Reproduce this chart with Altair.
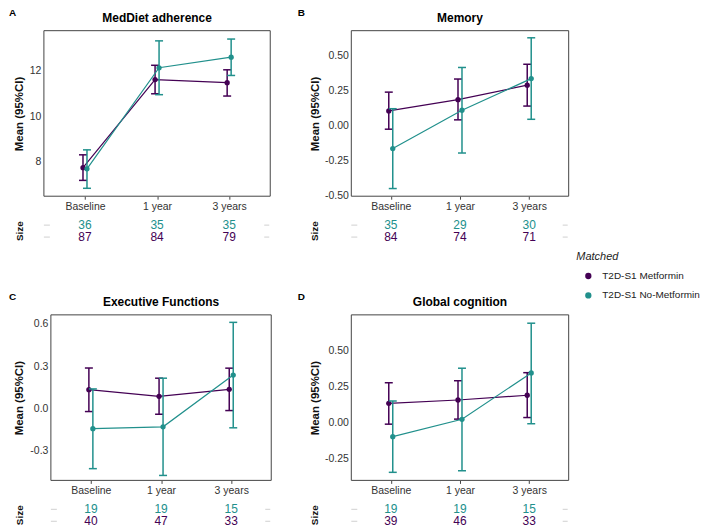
import altair as alt
import pandas as pd

times = ["Baseline", "1 year", "3 years"]
groups = ["T2D-S1 Metformin", "T2D-S1 No-Metformin"]
PURPLE = "#440154"
TEAL = "#21908C"

# A: MedDiet adherence
med_met_mean = [7.72, 11.62, 11.48]
med_met_lo = [7.16, 10.99, 10.89]
med_met_hi = [8.29, 12.25, 12.05]
med_met_n = [87, 84, 79]
med_nom_mean = [7.67, 12.14, 12.61]
med_nom_lo = [6.81, 10.95, 11.80]
med_nom_hi = [8.51, 13.33, 13.41]
med_nom_n = [36, 35, 35]

# B: Memory
mem_met_mean = [0.105, 0.186, 0.29]
mem_met_lo = [-0.026, 0.041, 0.14]
mem_met_hi = [0.24, 0.334, 0.44]
mem_met_n = [84, 74, 71]
mem_nom_mean = [-0.165, 0.11, 0.337]
mem_nom_lo = [-0.452, -0.197, 0.045]
mem_nom_hi = [0.121, 0.417, 0.63]
mem_nom_n = [35, 29, 30]

# C: Executive Functions
exe_met_mean = [0.134, 0.087, 0.136]
exe_met_lo = [-0.021, -0.04, -0.014]
exe_met_hi = [0.287, 0.215, 0.286]
exe_met_n = [40, 47, 33]
exe_nom_mean = [-0.142, -0.129, 0.237]
exe_nom_lo = [-0.425, -0.473, -0.136]
exe_nom_hi = [0.139, 0.215, 0.61]
exe_nom_n = [19, 19, 15]

# D: Global cognition
glo_met_mean = [0.133, 0.156, 0.189]
glo_met_lo = [-0.012, 0.023, 0.034]
glo_met_hi = [0.276, 0.29, 0.346]
glo_met_n = [39, 46, 33]
glo_nom_mean = [-0.099, 0.022, 0.344]
glo_nom_lo = [-0.347, -0.336, -0.009]
glo_nom_hi = [0.149, 0.377, 0.69]
glo_nom_n = [19, 19, 15]


def make_df(mm, ml, mh, mn, nm, nl, nh, nn):
    rows = []
    for i, t in enumerate(times):
        rows.append(dict(time=t, group=groups[0], mean=mm[i], lo=ml[i], hi=mh[i], n=mn[i]))
    for i, t in enumerate(times):
        rows.append(dict(time=t, group=groups[1], mean=nm[i], lo=nl[i], hi=nh[i], n=nn[i]))
    return pd.DataFrame(rows)


XPAD = 0.57
H = 166

LEGEND = alt.Legend(
    title="Matched", orient="none", legendX=534, legendY=221,
    titleFontStyle="italic", titleFontWeight="normal", titleFontSize=11,
    titleColor="#222222", labelFontSize=10, labelColor="#222222",
    symbolType="circle", symbolSize=40, symbolStrokeWidth=0,
    symbolOffset=7, labelOffset=9, rowPadding=9.5, titlePadding=9, padding=0)


def panel(df, title, letter, dom, tick_vals, fmt, bw, ox, letter_x, title_x):
    W = ox + bw
    xsc = alt.Scale(type="point", domain=times, padding=XPAD, range=[ox, W])
    xaxis = alt.Axis(title=None, labelFontSize=10.5, labelColor="#333333", labelPadding=2,
                     tickSize=3, tickColor="#444444", domain=False, grid=False, labelAngle=0)

    def xenc():
        return alt.X("time:O", sort=times, scale=xsc, axis=xaxis)

    yaxis = alt.Axis(title="Mean (95%CI)", values=tick_vals, offset=-ox,
                     labelExpr="replace(format(datum.value, '" + fmt + "'), '\u2212', '-')",
                     labelFontSize=10.5, labelColor="#333333", ticks=False, labelPadding=3,
                     domain=False, grid=False, titleFontSize=11.5, titleFontWeight="bold",
                     titleColor="#111111", titleX=title_x, titleBaseline="middle", titleAngle=270)
    yscale = alt.Scale(domain=dom, nice=False, zero=False)
    stroke = alt.Stroke("group:N", scale=alt.Scale(range=[PURPLE, TEAL]), legend=None)
    fill = alt.Fill("group:N", scale=alt.Scale(range=[PURPLE, TEAL]), legend=None)

    deco = pd.DataFrame({"letter": [letter], "title": [title], "size": ["Size"]})
    box = alt.Chart(deco).mark_rect(fill="transparent", stroke="#444444", strokeWidth=1).encode(
        x=alt.value(ox), x2=alt.value(W), y=alt.value(0), y2=alt.value(H))
    layers = [box]
    for g, dx in zip(groups, [-2, 2]):
        base = alt.Chart(df).transform_filter(alt.datum.group == g)
        line = base.mark_line(xOffset=dx, strokeWidth=1.2).encode(
            x=xenc(), y=alt.Y("mean:Q", scale=yscale, axis=yaxis), stroke=stroke)
        rule = base.mark_rule(xOffset=dx, strokeWidth=1.5).encode(
            x=xenc(), y=alt.Y("lo:Q", scale=yscale, axis=yaxis), y2="hi:Q", stroke=stroke)
        cap_lo = base.mark_tick(xOffset=dx, size=8, thickness=1.5, opacity=1).encode(
            x=xenc(), y=alt.Y("lo:Q", scale=yscale, axis=yaxis), fill=fill)
        cap_hi = base.mark_tick(xOffset=dx, size=8, thickness=1.5, opacity=1).encode(
            x=xenc(), y=alt.Y("hi:Q", scale=yscale, axis=yaxis), fill=fill)
        pt = base.mark_circle(xOffset=dx, size=28, opacity=1).encode(
            x=xenc(), y=alt.Y("mean:Q", scale=yscale, axis=yaxis),
            color=alt.Color("group:N", scale=alt.Scale(domain=groups, range=[PURPLE, TEAL]),
                            legend=LEGEND))
        layers += [line, rule, cap_lo, cap_hi, pt]

    let = alt.Chart(deco).mark_text(fontSize=10, fontWeight="bold", align="center",
                                    baseline="middle", color="black").encode(
        text="letter:N", x=alt.value(ox + letter_x), y=alt.value(-18))
    ttl = alt.Chart(deco).mark_text(fontSize=12, fontWeight="bold", align="center",
                                    baseline="alphabetic", color="black").encode(
        text="title:N", x=alt.value(ox + bw / 2), y=alt.value(-8.5))
    size_lbl = alt.Chart(deco).mark_text(fontSize=10, fontWeight="bold", align="center",
                                         baseline="middle", angle=270, color="#111111").encode(
        text="size:N", x=alt.value(ox + title_x), y=alt.value(H + 35))
    layers += [let, ttl, size_lbl]
    plot = alt.layer(*layers)

    tscale = alt.Scale(type="point", domain=[groups[1], groups[0]], range=[H + 29, H + 41], padding=0)
    ty = alt.Y("group:N", scale=tscale, axis=None)
    tab_text = alt.Chart(df).mark_text(fontSize=12).encode(
        x=xenc(), y=ty, text="n:Q", fill=fill)
    dash_l = alt.Chart(df).transform_filter(alt.datum.time == times[0]).mark_rule(
        color="#d0d0d0", strokeWidth=1).encode(y=ty, x=alt.value(ox), x2=alt.value(ox + 6))
    dash_r = alt.Chart(df).transform_filter(alt.datum.time == times[0]).mark_rule(
        color="#d0d0d0", strokeWidth=1).encode(y=ty, x=alt.value(W - 6), x2=alt.value(W - 1))
    table = alt.layer(tab_text, dash_l, dash_r)

    return alt.layer(plot, table).resolve_scale(y="independent").properties(
        width=W, height=H, view=alt.ViewBackground(stroke="transparent"))


dfA = make_df(med_met_mean, med_met_lo, med_met_hi, med_met_n,
              med_nom_mean, med_nom_lo, med_nom_hi, med_nom_n)
dfB = make_df(mem_met_mean, mem_met_lo, mem_met_hi, mem_met_n,
              mem_nom_mean, mem_nom_lo, mem_nom_hi, mem_nom_n)
dfC = make_df(exe_met_mean, exe_met_lo, exe_met_hi, exe_met_n,
              exe_nom_mean, exe_nom_lo, exe_nom_hi, exe_nom_n)
dfD = make_df(glo_met_mean, glo_met_lo, glo_met_hi, glo_met_n,
              glo_nom_mean, glo_nom_lo, glo_nom_hi, glo_nom_n)

pA = panel(dfA, "MedDiet adherence", "A", [6.46, 13.78], [8, 10, 12], ".0f", 227, 0, -31.5, -24)
pB = panel(dfB, "Memory", "B", [-0.507, 0.681], [-0.5, -0.25, 0, 0.25, 0.5], ".2f", 218, 0, -50, -36)
pC = panel(dfC, "Executive Functions", "C", [-0.508, 0.663], [-0.3, 0, 0.3, 0.6], ".1f", 221, 7, -38.5, -31)
pD = panel(dfD, "Global cognition", "D", [-0.403, 0.748], [-0.25, 0, 0.25, 0.5], ".2f", 218, 0, -50, -36)

row1 = alt.hconcat(pA, pB, spacing=25.3)
row2 = alt.hconcat(pC, pD, spacing=24.3)
chart = alt.vconcat(row1, row2, spacing=47).properties(
    padding={"left": 0, "top": -2, "right": 0, "bottom": 0}).configure(
    font="Liberation Sans").configure_view(stroke="#444444", strokeWidth=1)

chart.save("out.html", embed_options={"renderer": "svg", "actions": False})
